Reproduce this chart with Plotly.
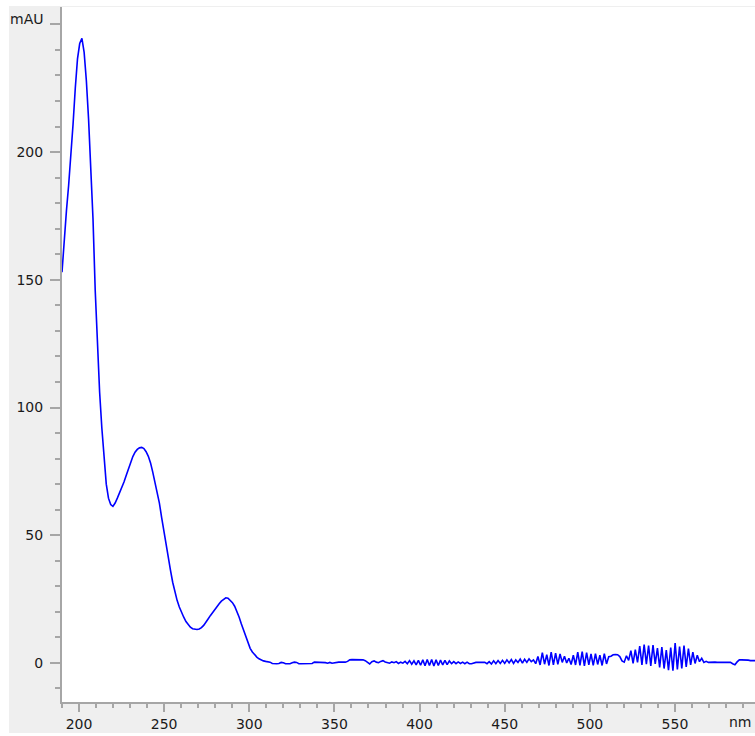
import numpy as np
import plotly.graph_objects as go

# UV-Vis absorbance scan (DAD), sampled every 1.3 nm starting at 190 nm
SCAN_START_NM = 190.0
SCAN_STEP_NM = 1.3

absorbance_mau = [
    153, 167, 177, 187, 198, 211, 225, 236.5, 242.5, 244.5,
    239, 228, 213, 196, 174, 146, 122, 106, 92, 79,
    70, 64.5, 62, 61.3, 62.6, 64.5, 66.5, 68.5, 70.8, 73.4,
    76, 78.6, 80.8, 82.5, 83.6, 84.2, 84.4, 83.9, 82.7, 80.9,
    78.3, 74.7, 71, 67.3, 62.6, 57, 51.5, 46.5, 41, 36.3,
    31.6, 27.8, 24.5, 21.9, 19.7, 17.9, 16.2, 14.9, 14, 13.4,
    13.1, 13.1, 13.3, 13.8, 14.7, 15.8, 17.2, 18.5, 19.8, 21,
    22.1, 23.2, 24.2, 25, 25.5, 25.3, 24.5, 23.6, 22.2, 20.4,
    18, 15.3, 12.7, 10, 7.6, 5.7, 4.3, 3.2, 2.3, 1.6,
    1.1, 0.8, 0.6, 0.4, 0.3, -0.2, -0.3, -0.3, -0.2, 0.2,
    0.1, -0.3, -0.3, -0.3, 0.1, 0.3, 0.2, -0.3, -0.3, -0.3,
    -0.3, -0.3, -0.3, -0.2, 0.3, 0.3, 0.3, 0.3, 0.3, 0.1,
    -0.1, 0.2, -0.1, 0.1, 0.3, 0.3, 0.3, 0.3, 0.3, 0.6,
    1.2, 1.3, 1.3, 1.3, 1.3, 1.3, 1.2, 0.9, 0.2, -0.4,
    0.5, 0.8, 0.3, 0.1, 0.6, 0.9, 0.4, 0.2, -0.1, 0.4,
    0.1, 0.5, -0.2, 0.3, -0.1, 0.6, -0.3, 0.9, -0.5, 0.8,
    -0.8, 1.0, -0.9, 1.2, -1.1, 1.3, -1.0, 1.3, -1.2, 1.2,
    -1.0, 1.1, -0.8, 1.0, -0.7, 0.8, -0.3, 0.5, -0.3, 0.4,
    -0.2, 0.3, -0.3, 0.3, -0.3, -0.3, 0.1, 0.2, 0.2, 0.2,
    0.2, 0.2, -0.3, 0.5, -0.4, 0.8, -0.3, 0.9, -0.2, 1.0,
    -0.2, 1.2, 0.0, 1.3, -0.2, 1.2, 0.2, 1.5, -0.1, 1.4,
    0.2, 1.6, 0.5, 1.2, -0.3, 2.5, -0.8, 4.0, -0.5, 3.2,
    -1.0, 4.2, -0.8, 3.8, -0.6, 3.5, 0.2, 2.6, 0.0, 1.8,
    -0.6, 3.0, -0.8, 4.2, -1.0, 4.4, -1.2, 4.0, -0.8, 3.5,
    -1.0, 3.6, -0.6, 3.0, -1.0, 3.6, -0.4, 2.4, 2.6, 3.2,
    3.3, 3.2, 2.5, 0.8, 0.3, 2.8, 1.0, 4.8, -0.2, 5.2,
    0.2, 6.6, -0.8, 7.2, -0.5, 6.8, -1.2, 7.0, -0.4, 5.8,
    -1.8, 6.2, -2.2, 5.0, -2.8, 6.0, -3.0, 7.8, -2.5, 6.4,
    -2.2, 6.8, -1.6, 5.6, -0.8, 4.2, -0.2, 3.0, 0.5, 1.8,
    0.2, 0.6, 0.2, 0.3, 0.2, 0.3, 0.2, 0.2, 0.3, 0.2,
    0.2, 0.1, 0.2, -0.3, -0.7, 0.4, 1.2, 1.2, 1.2, 1.3,
    1.1, 0.9, 0.9, 0.9, 0.9,
]

wavelength_nm = np.round(SCAN_START_NM + SCAN_STEP_NM * np.arange(len(absorbance_mau)), 1)

y_tick_values = [0, 50, 100, 150, 200, 250]
y_tick_labels = ["0", "50", "100", "150", "200", ""]
x_tick_values = [200, 250, 300, 350, 400, 450, 500, 550]
x_tick_labels = ["200", "250", "300", "350", "400", "450", "500", "550"]

X_RANGE = [190, 597]
Y_RANGE = [-15.3, 256.8]

FONT = "DejaVu Sans"
TEXT_COLOR = "#1a1a1a"
AXIS_COLOR = "#a6a6a6"
PANEL_GRAY = "#efefef"

# margins (px) around the plotting area
ML, MR, MT, MB = 62, 0, 7, 34
W, H = 755, 736
plot_w = W - ML - MR
plot_h = H - MT - MB


def px_to_paper_x(px):
    return (px - ML) / plot_w


def px_to_paper_y(py):
    return (H - MB - py) / plot_h


fig = go.Figure()
fig.add_trace(go.Scatter(
    x=wavelength_nm,
    y=absorbance_mau,
    mode="lines",
    line=dict(color="#0000ff", width=1.6),
    hoverinfo="x+y",
    showlegend=False,
))

fig.update_layout(
    width=W,
    height=H,
    margin=dict(l=ML, r=MR, t=MT, b=MB, pad=0),
    paper_bgcolor="white",
    plot_bgcolor="white",
    font=dict(family=FONT, size=14, color=TEXT_COLOR),
    shapes=[
        # grey instrument panel behind the axes
        dict(type="rect", xref="paper", yref="paper",
             x0=px_to_paper_x(9), x1=px_to_paper_x(760),
             y0=px_to_paper_y(733), y1=px_to_paper_y(6),
             fillcolor=PANEL_GRAY, line=dict(width=0), layer="below"),
        # white plotting area
        dict(type="rect", xref="paper", yref="paper",
             x0=0, x1=1.01, y0=0, y1=1,
             fillcolor="white", line=dict(width=0), layer="below"),
    ],
    annotations=[
        dict(text="mAU", xref="paper", yref="y",
             x=px_to_paper_x(45), y=250, xanchor="right", yanchor="middle",
             yshift=5, showarrow=False,
             font=dict(family=FONT, size=14, color=TEXT_COLOR)),
        dict(text="nm", xref="paper", yref="paper",
             x=px_to_paper_x(754), y=px_to_paper_y(722),
             xanchor="right", yanchor="middle", showarrow=False,
             font=dict(family=FONT, size=14, color=TEXT_COLOR)),
    ],
)

fig.update_xaxes(
    range=X_RANGE,
    showgrid=False,
    zeroline=False,
    showline=True,
    linecolor=AXIS_COLOR,
    linewidth=2,
    ticks="outside",
    ticklen=8,
    tickwidth=1.5,
    tickcolor=AXIS_COLOR,
    tickvals=x_tick_values,
    ticktext=x_tick_labels,
    tickfont=dict(family=FONT, size=14, color=TEXT_COLOR),
    minor=dict(dtick=10, tick0=0, ticks="outside", ticklen=4,
               tickwidth=1.5, tickcolor=AXIS_COLOR),
    mirror=False,
)

fig.update_yaxes(
    range=Y_RANGE,
    showgrid=False,
    zeroline=False,
    showline=True,
    linecolor=AXIS_COLOR,
    linewidth=2,
    ticks="outside",
    ticklen=10,
    tickwidth=1.5,
    tickcolor=AXIS_COLOR,
    tickvals=y_tick_values,
    ticktext=y_tick_labels,
    tickfont=dict(family=FONT, size=14, color=TEXT_COLOR),
    ticklabelstandoff=4,
    minor=dict(dtick=10, tick0=0, ticks="outside", ticklen=5,
               tickwidth=1.5, tickcolor=AXIS_COLOR),
    mirror=False,
)

fig.write_html("out.html")
